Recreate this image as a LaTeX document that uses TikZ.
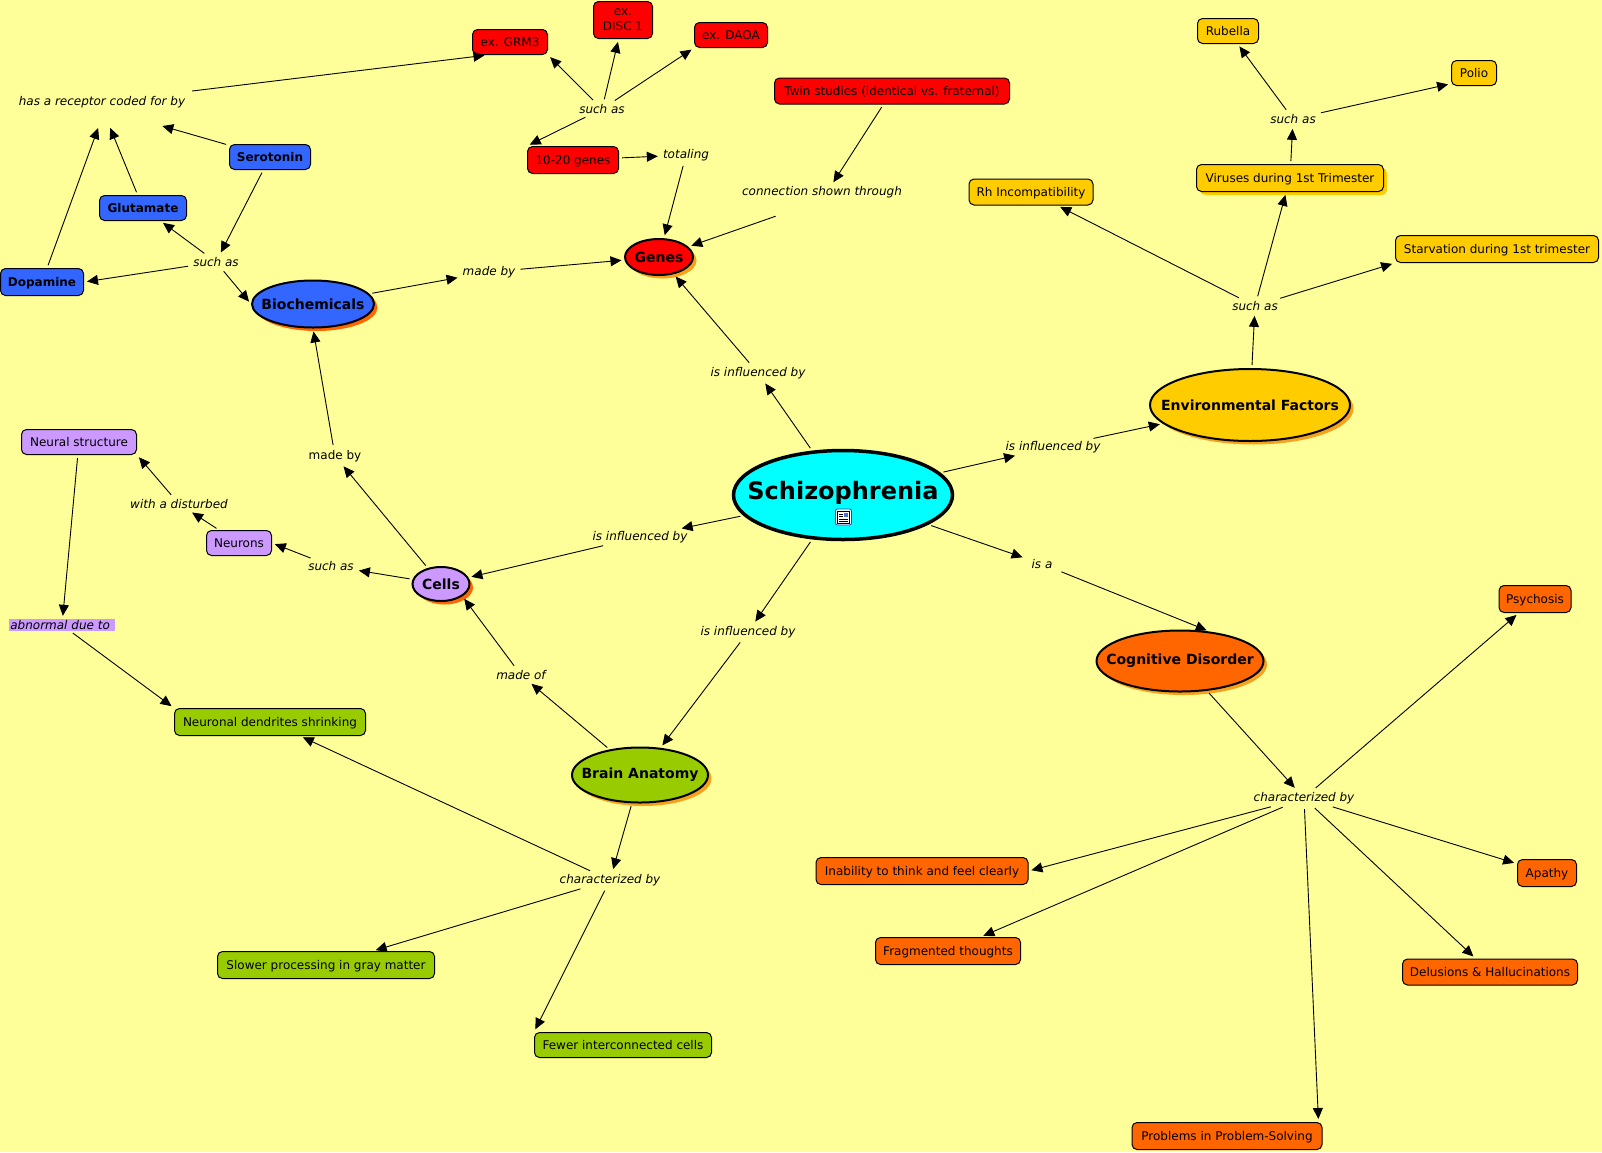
\documentclass[tikz,border=0pt]{standalone}
\usepackage{fontspec}
\setmainfont{DejaVu Sans}
\usepackage{tikz}
\usetikzlibrary{arrows.meta,shapes.geometric,shadows}
\definecolor{fondo}{HTML}{FFFF99}
\definecolor{rojo}{HTML}{FF0000}
\definecolor{azul}{HTML}{3366FF}
\definecolor{naranja}{HTML}{FF6600}
\definecolor{oro}{HTML}{FFCC00}
\definecolor{lila}{HTML}{CC99FF}
\definecolor{verde}{HTML}{99CC00}
\definecolor{cian}{HTML}{00FFFF}
\definecolor{sombra}{HTML}{F9A11B}
\newcommand{\rotulo}[1]{\makebox[0pt]{\raisebox{-1.5pt}{#1}}}

\begin{document}
\begin{tikzpicture}[x=1pt,y=-1pt,
    caja/.style={draw,line width=1pt,rounded corners=5pt,inner sep=0pt,text height=10.5pt,text depth=2.5pt,font=\fontsize{12}{15}\selectfont,align=center},
    nego/.style={caja,font=\fontsize{12}{15}\selectfont\bfseries},
    tema/.style={ellipse,draw,line width=2pt,inner sep=0pt,font=\fontsize{14}{17}\selectfont\bfseries},
    frase/.style={inner sep=2pt,yshift=-1pt,font=\fontsize{12}{15}\selectfont\itshape,align=center},
    flecha/.style={-{Triangle[length=11pt,width=10pt]},line width=0.9pt,shorten >=3pt,shorten <=3pt},
    sombreada/.style={drop shadow={shadow xshift=3.5pt,shadow yshift=-3.5pt,fill=#1,opacity=1}}]
  \useasboundingbox (0,0) rectangle (1602,1152);
  \fill[fondo] (0,0) rectangle (1602,1152);
  % main concept
  \node[ellipse,draw,line width=3.5pt,fill=cian,inner sep=0pt,minimum width=219pt,minimum height=89pt] (schizo) at (843,495) {};
  \node[font=\fontsize{24}{28}\selectfont\bfseries,inner sep=0pt] (titulo) at (843,493) {Schizophrenia};
  \node[draw=azul!70!black,line width=0.8pt,fill=white,rounded corners=2pt,minimum width=16pt,minimum height=16pt,inner sep=0pt] (icono) at (843.5,517) {};
  \draw[line width=0.8pt] (837.5,511.5) rectangle (849,523);
  \fill[azul!60!gray] (844,512.5) rectangle (848,516.5);
  \draw[line width=0.8pt] (839,514) -- (843,514) (839,516.5) -- (843,516.5) (839,519) -- (847.5,519) (839,521) -- (847.5,521);
  % big ellipses
  \node[tema,fill=rojo,sombreada=sombra,minimum width=68pt,minimum height=36pt] (genes) at (659,257) {\rotulo{Genes}};
  \node[tema,fill=azul,sombreada=naranja,minimum width=122pt,minimum height=47pt] (bioquim) at (313,304) {\rotulo{Biochemicals}};
  \node[tema,fill=lila,sombreada=naranja,minimum width=57pt,minimum height=34pt] (celulas) at (441,584) {\rotulo{Cells}};
  \node[tema,fill=verde,sombreada=sombra,minimum width=136pt,minimum height=55pt] (cerebro) at (640,775) {\rotulo{Brain Anatomy}};
  \node[tema,fill=naranja,sombreada=sombra,minimum width=167pt,minimum height=61pt] (cognit) at (1180,661) {\rotulo{Cognitive Disorder}};
  \node[tema,fill=oro,sombreada=sombra,minimum width=200pt,minimum height=72pt] (ambiente) at (1250,405) {\rotulo{Environmental Factors}};
  % red boxes
  \node[caja,fill=rojo,minimum width=75pt,minimum height=25pt] (grm) at (510,42) {ex. GRM3};
  \node[caja,fill=rojo,minimum width=59pt,minimum height=37pt,text height=,text depth=] (disc) at (623,20) {ex.\\DISC 1};
  \node[caja,fill=rojo,minimum width=73pt,minimum height=25pt] (daoa) at (731,35) {ex. DAOA};
  \node[caja,fill=rojo,minimum width=91pt,minimum height=27pt] (diezgenes) at (573,160) {10-20 genes};
  \node[caja,fill=rojo,minimum width=235pt,minimum height=26pt] (gemelos) at (892,91) {Twin studies (identical vs. fraternal)};
  % blue boxes
  \node[nego,fill=azul,minimum width=81pt,minimum height=25pt] (seroton) at (270,157) {Serotonin};
  \node[nego,fill=azul,minimum width=87pt,minimum height=25pt] (glutam) at (143,208) {Glutamate};
  \node[nego,fill=azul,minimum width=83pt,minimum height=27pt] (dopam) at (42,282) {Dopamine};
  % lilac boxes
  \node[caja,fill=lila,minimum width=115pt,minimum height=25pt] (estruct) at (79,442) {Neural structure};
  \node[caja,fill=lila,minimum width=65pt,minimum height=25pt] (neuronas) at (239,543) {Neurons};
  % green boxes
  \node[caja,fill=verde,minimum width=191pt,minimum height=27pt] (dendritas) at (270,722) {Neuronal dendrites shrinking};
  \node[caja,fill=verde,minimum width=217pt,minimum height=27pt] (lenta) at (326,965) {Slower processing in gray matter};
  \node[caja,fill=verde,minimum width=177pt,minimum height=25pt] (pocas) at (623,1045) {Fewer interconnected cells};
  % orange boxes
  \node[caja,fill=naranja,minimum width=212pt,minimum height=27pt] (incapaz) at (922,871) {Inability to think and feel clearly};
  \node[caja,fill=naranja,minimum width=145pt,minimum height=27pt] (fragment) at (948,951) {Fragmented thoughts};
  \node[caja,fill=naranja,minimum width=190pt,minimum height=27pt] (problemas) at (1227,1136) {Problems in Problem-Solving};
  \node[caja,fill=naranja,minimum width=175pt,minimum height=26pt] (delirios) at (1490,972) {Delusions \& Hallucinations};
  \node[caja,fill=naranja,minimum width=59pt,minimum height=27pt] (apatia) at (1547,873) {Apathy};
  \node[caja,fill=naranja,minimum width=72pt,minimum height=27pt] (psicosis) at (1535,599) {Psychosis};
  % gold boxes
  \node[caja,fill=oro,minimum width=61pt,minimum height=25pt] (rubeola) at (1228,31) {Rubella};
  \node[caja,fill=oro,minimum width=45pt,minimum height=25pt] (polio) at (1474,73) {Polio};
  \node[caja,fill=oro,minimum width=187pt,minimum height=27pt,sombreada=oro] (virus) at (1290,178) {Viruses during 1st Trimester};
  \node[caja,fill=oro,minimum width=203pt,minimum height=27pt] (hambre) at (1497,249) {Starvation during 1st trimester};
  \node[caja,fill=oro,minimum width=124pt,minimum height=26pt] (rh) at (1031,192) {Rh Incompatibility};
  % linking phrases
  \node[frase] (inflgenes) at (758,372) {is influenced by};
  \node[frase] (inflamb) at (1053,446) {is influenced by};
  \node[frase] (inflcel) at (640,536) {is influenced by};
  \node[frase] (inflcer) at (748,631) {is influenced by};
  \node[frase,inner xsep=6pt] (esun) at (1042,563) {is a};
  \node[frase] (comoamb) at (1255,305) {such as};
  \node[frase] (comovir) at (1293,118) {such as};
  \node[frase] (carcog) at (1304,797) {characterized by};
  \node[frase] (carcer) at (610,879) {characterized by};
  \node[frase] (hecho) at (521,674) {made of};
  \node[frase,font=\fontsize{12}{15}\selectfont] (hechocel) at (335,455) {made by};
  \node[frase] (comocel) at (331,565) {such as};
  \node[frase] (conuna) at (179,503) {with a disturbed};
  \node[frase,fill=lila,inner sep=0pt,minimum width=106pt,minimum height=12pt] (anormal) at (62,624) {abnormal due to~};
  \node[frase] (hechobio) at (489,271) {made by};
  \node[frase,inner sep=0pt,minimum height=30pt,text height=10pt,text depth=20pt,minimum width=88pt] (conexion) at (822,199) {\makebox[0pt]{connection shown through}};
  \node[frase] (total) at (686,154) {totaling};
  \node[frase] (comogen) at (602,108) {such as};
  \node[frase] (comobio) at (216,261) {such as};
  \node[frase,minimum width=174pt,minimum height=46pt] (receptor) at (102,101) {has a receptor coded for by};
  % connectors
  \draw[flecha] (schizo) -- (inflgenes);
  \draw[flecha] (inflgenes) -- (genes);
  \draw[flecha] (schizo) -- (inflamb);
  \draw[flecha] (inflamb) -- (ambiente);
  \draw[flecha] (schizo) -- (inflcel);
  \draw[flecha] (inflcel) -- (celulas);
  \draw[flecha] (schizo) -- (inflcer);
  \draw[flecha] (inflcer) -- (cerebro);
  \draw[flecha] (schizo) -- (esun);
  \draw[flecha] (esun) -- (cognit.45);
  \draw[flecha] (ambiente) -- (comoamb);
  \draw[flecha] (comoamb) -- (rh);
  \draw[flecha] (comoamb) -- (virus);
  \draw[flecha] (comoamb) -- (hambre.south west);
  \draw[flecha] (virus) -- (comovir);
  \draw[flecha] (comovir) -- (rubeola);
  \draw[flecha] (comovir) -- (polio.205);
  \draw[flecha] (cognit) -- (carcog);
  \draw[flecha] (carcog) -- (psicosis);
  \draw[flecha] (carcog) -- (apatia);
  \draw[flecha] (carcog) -- (delirios);
  \draw[flecha] (carcog) -- ([xshift=-4pt]problemas.north east);
  \draw[flecha] (carcog) -- (fragment);
  \draw[flecha] (carcog) -- (incapaz.east);
  \draw[flecha] (cerebro) -- (carcer);
  \draw[flecha] (carcer) -- (dendritas);
  \draw[flecha] (carcer) -- (lenta);
  \draw[flecha] (carcer) -- (pocas.north west);
  \draw[flecha] (cerebro) -- (hecho);
  \draw[flecha] (hecho) -- (celulas.-30);
  \draw[flecha] (celulas) -- (hechocel);
  \draw[flecha] (hechocel) -- (bioquim.south);
  \draw[flecha] (celulas) -- (comocel);
  \draw[flecha] (comocel) -- (neuronas.east);
  \draw[flecha] (neuronas) -- (conuna);
  \draw[flecha] (conuna) -- (estruct.south east);
  \draw[flecha] (estruct) -- (anormal);
  \draw[flecha] (anormal) -- (dendritas.north west);
  \draw[flecha] (bioquim) -- (hechobio);
  \draw[flecha] (hechobio) -- (genes);
  \draw[flecha] (gemelos) -- (conexion);
  \draw[flecha] (conexion) -- (genes);
  \draw[flecha] (diezgenes) -- (total);
  \draw[flecha] (total) -- (genes);
  \draw[flecha] (comogen) -- (grm.south east);
  \draw[flecha] (comogen) -- (disc.-103);
  \draw[flecha] (comogen) -- (daoa.south west);
  \draw[flecha] (comogen) -- (diezgenes.north west);
  \draw[flecha] (receptor) -- (grm.210);
  \draw[flecha] (seroton) -- (receptor.-22);
  \draw[flecha] (glutam) -- (receptor.-73);
  \draw[flecha] (dopam) -- (receptor.-97);
  \draw[flecha] (seroton) -- (comobio);
  \draw[flecha] (comobio) -- (glutam);
  \draw[flecha] (comobio) -- (dopam.east);
  \draw[flecha] (comobio) -- (bioquim.west);
\end{tikzpicture}
\end{document}
